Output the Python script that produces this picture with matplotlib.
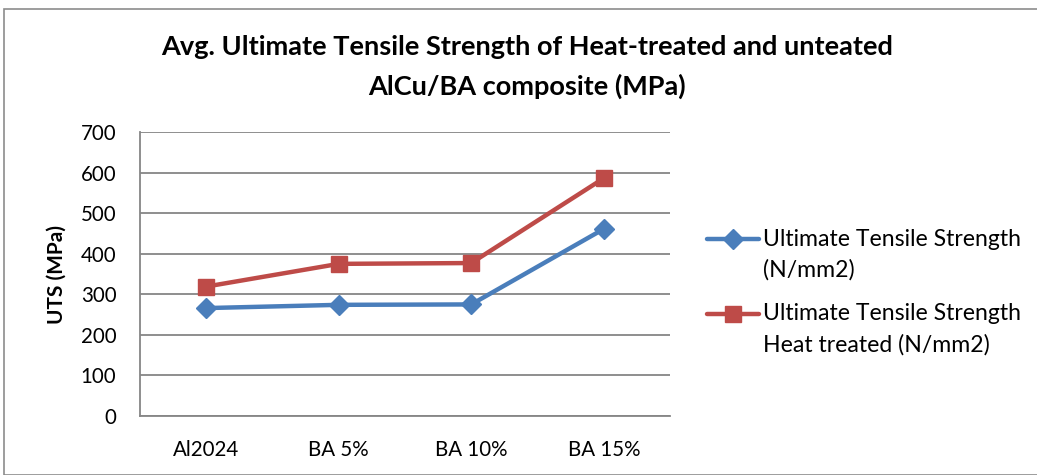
import matplotlib
matplotlib.use("Agg")
import matplotlib.pyplot as plt
from matplotlib.lines import Line2D
from matplotlib.patches import Rectangle

plt.rcParams['font.family'] = ['Lato', 'DejaVu Sans']

categories = ['Al2024', 'BA 5%', 'BA 10%', 'BA 15%']
uts = [266, 274, 275, 461]
uts_heat_treated = [319, 375, 377, 586]
series_labels = ['Ultimate Tensile Strength\n(N/mm2)',
                 'Ultimate Tensile Strength\nHeat treated (N/mm2)']
y_ticks = [0, 100, 200, 300, 400, 500, 600, 700]

blue = '#4A7EBB'
red = '#BE4B48'
grid_grey = '#868686'

W, H = 1037, 475
fig = plt.figure(figsize=(W / 100, H / 100), dpi=100)

# chart frame
fig.patches.append(Rectangle((4 / W, 0), 1.2, 1 - 9 / H, transform=fig.transFigure,
                             fill=False, edgecolor='#8C8C8C', linewidth=1.2))

ax = fig.add_axes([140 / W, 59 / H, 530 / W, 284 / H])
x = range(len(categories))
ax.plot(x, uts, color=blue, linewidth=3.2, marker='D', markersize=10,
        markeredgecolor=blue, markerfacecolor=blue, solid_capstyle='round')
ax.plot(x, uts_heat_treated, color=red, linewidth=3.2, marker='s', markersize=12,
        markeredgecolor=red, markerfacecolor=red, solid_capstyle='round')

ax.set_xlim(-0.5, len(categories) - 0.5)
ax.set_ylim(0, 700)
ax.set_yticks(y_ticks)
ax.set_xticks(list(x))
ax.set_xticklabels(categories)
ax.yaxis.grid(True, color=grid_grey, linewidth=1.3)
ax.set_axisbelow(True)
for side in ['top', 'right']:
    ax.spines[side].set_visible(False)
for side in ['left', 'bottom']:
    ax.spines[side].set_color(grid_grey)
    ax.spines[side].set_linewidth(1.3)
ax.tick_params(axis='both', length=0, labelsize=14.8, colors='black')
ax.tick_params(axis='y', pad=17)
ax.tick_params(axis='x', pad=17)

# y-axis title placed directly so it sits just left of the tick labels
fig.text(57 / W, 1 - 275 / H, 'UTS (MPa)', rotation=90, ha='center', va='center',
         fontsize=15, fontweight='bold')

fig.text(527 / W, 1 - 47 / H, 'Avg. Ultimate Tensile Strength of Heat-treated and unteated',
         ha='center', va='center', fontsize=19.5, fontweight='bold')
fig.text(527 / W, 1 - 86 / H, 'AlCu/BA composite (MPa)',
         ha='center', va='center', fontsize=19.5, fontweight='bold')

# legend drawn by hand so the marker sits on the first text line
legend_rows = [(239, blue, 'D', 10), (314, red, 's', 12)]
for (y_px, color, marker, ms), label in zip(legend_rows, series_labels):
    yf = 1 - y_px / H
    fig.add_artist(Line2D([707 / W, 759 / W], [yf, yf], transform=fig.transFigure,
                          color=color, linewidth=3.2, solid_capstyle='round'))
    fig.add_artist(Line2D([733 / W], [yf], transform=fig.transFigure, color=color,
                          marker=marker, markersize=ms, linestyle='none'))
    first, second = label.split('\n')
    fig.text(763 / W, yf, first, ha='left', va='center', fontsize=16.6)
    fig.text(763 / W, yf - 31 / H, second, ha='left', va='center', fontsize=16.6)

fig.savefig('out.png', dpi=100)
